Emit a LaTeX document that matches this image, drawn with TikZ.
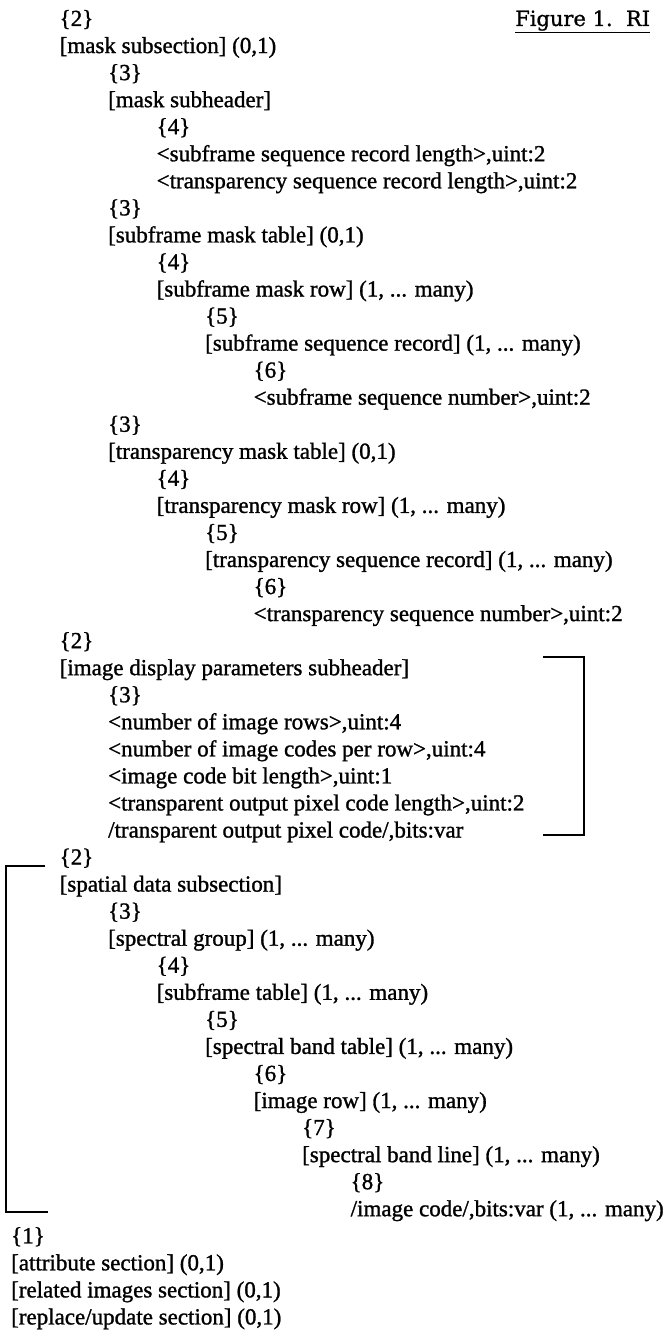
\documentclass[tikz,border=0pt]{standalone}
\usepackage{fontspec}
\setmainfont[RawFeature={embolden=1.2}]{Liberation Serif}
\newfontfamily\titlefnt[RawFeature={embolden=1.0}]{DejaVu Serif}
\newcommand\tline[4]{\node[ln] (#1) at ({(11+(#2-1)*48.5)*1pt}, {-(26+(#3-1)*27.05)*1pt}) {#4};}
\tikzset{
  ln/.style={anchor=base west, inner sep=0pt, font=\fontsize{23}{27}\selectfont},
  brk/.style={line width=2.6pt},
  ttl/.style={anchor=base west, inner sep=0pt, font=\titlefnt\fontsize{21}{25}\selectfont}
}
\begin{document}
\begin{tikzpicture}[x=1pt,y=1pt]
\useasboundingbox (0,0) rectangle (665,-1332);
\node[ttl] (title) at (515,-26) {\underline{Figure 1.\ \ RI}};
\tline{n1}{2}{1}{\{2\}}
\tline{n2}{2}{2}{[mask subsection] (0,1)}
\tline{n3}{3}{3}{\{3\}}
\tline{n4}{3}{4}{[mask subheader]}
\tline{n5}{4}{5}{\{4\}}
\tline{n6}{4}{6}{<subframe sequence record length>,uint:2}
\tline{n7}{4}{7}{<transparency sequence record length>,uint:2}
\tline{n8}{3}{8}{\{3\}}
\tline{n9}{3}{9}{[subframe mask table] (0,1)}
\tline{n10}{4}{10}{\{4\}}
\tline{n11}{4}{11}{[subframe mask row] (1, ... many)}
\tline{n12}{5}{12}{\{5\}}
\tline{n13}{5}{13}{[subframe sequence record] (1, ... many)}
\tline{n14}{6}{14}{\{6\}}
\tline{n15}{6}{15}{<subframe sequence number>,uint:2}
\tline{n16}{3}{16}{\{3\}}
\tline{n17}{3}{17}{[transparency mask table] (0,1)}
\tline{n18}{4}{18}{\{4\}}
\tline{n19}{4}{19}{[transparency mask row] (1, ... many)}
\tline{n20}{5}{20}{\{5\}}
\tline{n21}{5}{21}{[transparency sequence record] (1, ... many)}
\tline{n22}{6}{22}{\{6\}}
\tline{n23}{6}{23}{<transparency sequence number>,uint:2}
\tline{n24}{2}{24}{\{2\}}
\tline{n25}{2}{25}{[image display parameters subheader]}
\tline{n26}{3}{26}{\{3\}}
\tline{n27}{3}{27}{<number of image rows>,uint:4}
\tline{n28}{3}{28}{<number of image codes per row>,uint:4}
\tline{n29}{3}{29}{<image code bit length>,uint:1}
\tline{n30}{3}{30}{<transparent output pixel code length>,uint:2}
\tline{n31}{3}{31}{/transparent output pixel code/,bits:var}
\tline{n32}{2}{32}{\{2\}}
\tline{n33}{2}{33}{[spatial data subsection]}
\tline{n34}{3}{34}{\{3\}}
\tline{n35}{3}{35}{[spectral group] (1, ... many)}
\tline{n36}{4}{36}{\{4\}}
\tline{n37}{4}{37}{[subframe table] (1, ... many)}
\tline{n38}{5}{38}{\{5\}}
\tline{n39}{5}{39}{[spectral band table] (1, ... many)}
\tline{n40}{6}{40}{\{6\}}
\tline{n41}{6}{41}{[image row] (1, ... many)}
\tline{n42}{7}{42}{\{7\}}
\tline{n43}{7}{43}{[spectral band line] (1, ... many)}
\tline{n44}{8}{44}{\{8\}}
\tline{n45}{8}{45}{/image code/,bits:var (1, ... many)}
\tline{n46}{1}{46}{\{1\}}
\tline{n47}{1}{47}{[attribute section] (0,1)}
\tline{n48}{1}{48}{[related images section] (0,1)}
\tline{n49}{1}{49}{[replace/update section] (0,1)}
% brackets
\coordinate (ra) at (543,-657);
\coordinate (rb) at (584,-657);
\coordinate (rc) at (584,-835);
\coordinate (rd) at (543,-835);
\draw[brk] (ra) -- (rb) -- (rc) -- (rd);
\coordinate (la) at (45,-866);
\coordinate (lb) at (6,-866);
\coordinate (lc) at (6,-1212);
\coordinate (ld) at (48,-1212);
\draw[brk] (la) -- (lb) -- (lc) -- (ld);
\end{tikzpicture}
\end{document}
